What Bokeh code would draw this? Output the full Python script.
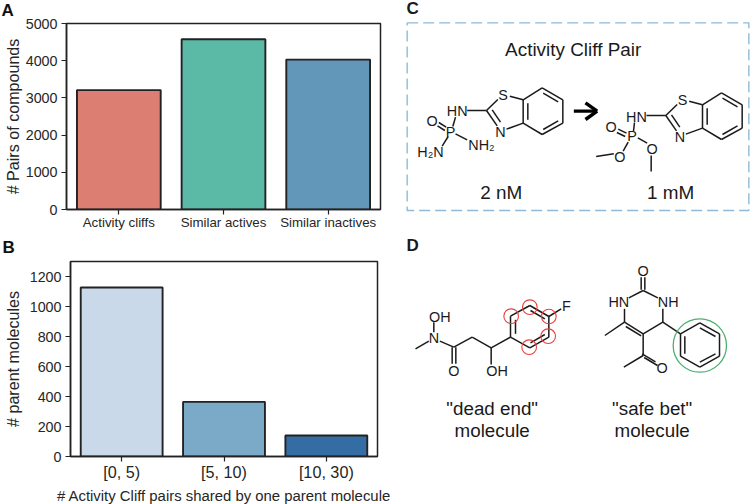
from bokeh.plotting import figure
from bokeh.layouts import column, row
from bokeh.models import FactorRange, Range1d, FixedTicker
from bokeh.core.properties import value
from bokeh.embed import file_html
from bokeh.resources import INLINE

FONT = "Liberation Sans"
INK = "#262626"

cats_a = ["Activity cliffs", "Similar actives", "Similar inactives"]
vals_a = [3210, 4575, 4030]
cols_a = ["#DC7E72", "#5ABAA6", "#6297BA"]
ticks_a = [0, 1000, 2000, 3000, 4000, 5000]

cats_b = ["[0, 5)", "[5, 10)", "[10, 30)"]
vals_b = [1127, 364, 140]
cols_b = ["#C9D9E9", "#7BA9C8", "#346DA3"]
ticks_b = [0, 200, 400, 600, 800, 1000, 1200]


def bar_fig(cats, vals, cols, ticks, ymax, w, h, ml, mr, mt, mb, ylabel, xlabel, xsize, letter, off, xstand, ystand, tstand, mbot):
    p = figure(width=w, height=h, x_range=FactorRange(*cats), y_range=Range1d(0, ymax),
               output_backend="svg", toolbar_location=None, tools="", margin=(-6, 0, mbot, 0),
               min_border_left=ml, min_border_right=mr, min_border_top=mt, min_border_bottom=mb)
    p.background_fill_alpha = 0
    p.border_fill_alpha = 0
    p.vbar(x=cats, top=vals, width=0.8, fill_color=cols, line_color="#222222", line_width=1.9)
    p.grid.visible = False
    p.outline_line_color = "#222222"
    p.outline_line_width = 1.5
    p.yaxis.ticker = FixedTicker(ticks=ticks)
    for ax in (p.xaxis[0], p.yaxis[0]):
        ax.axis_line_color = "#222222"
        ax.axis_line_width = 1.5
        ax.major_tick_line_color = "#222222"
        ax.major_tick_line_width = 1.2
        ax.major_tick_in = 0
        ax.major_tick_out = 5
        ax.minor_tick_line_color = None
        ax.major_label_text_font = FONT
        ax.major_label_text_color = INK
        ax.axis_label_text_font = FONT
        ax.axis_label_text_font_style = "normal"
        ax.axis_label_text_color = INK
    p.yaxis.axis_label_text_font_size = "16.1px"
    p.xaxis.axis_label_text_font_size = "14.9px"
    p.yaxis.major_label_text_font_size = "14.3px"
    p.xaxis.major_label_text_font_size = xsize
    p.yaxis.axis_label = ylabel
    p.yaxis.major_label_standoff = 4
    p.yaxis.axis_label_standoff = ystand
    p.xaxis.major_label_standoff = xstand
    p.xaxis.major_label_orientation = "horizontal"
    if xlabel:
        p.xaxis.axis_label = xlabel
        p.xaxis.axis_label_standoff = 4
    p.title.text = letter
    p.title.text_font = FONT
    p.title.text_font_style = "bold"
    p.title.text_font_size = "17px"
    p.title.text_color = "#111111"
    p.title.align = "left"
    p.title.offset = off
    p.title.standoff = tstand
    return p


fa = bar_fig(cats_a, vals_a, cols_a, ticks_a, 5000, 400, 241, 66, 20, 29, 26,
             "# Pairs of compounds", None, "13.3px", "A", -65, 0, 1, 7, 0)
fb = bar_fig(cats_b, vals_b, cols_b, ticks_b, 1300, 400, 277, 70, 23, 32, 50,
             "# parent molecules", "# Activity Cliff pairs shared by one parent molecule",
             "16.2px", "B", -68, 1, 5, 10, -2)

# Panels C and D: schematic structures (3x crop coordinates)
fc = figure(width=350, height=504, x_range=Range1d(0, 1050), y_range=Range1d(1512, 0),
            output_backend="svg", toolbar_location=None, tools="",
            min_border_left=0, min_border_right=0, min_border_top=0, min_border_bottom=0)
fc.axis.visible = False
fc.grid.visible = False
fc.outline_line_color = None

D = 660  # vertical offset of panel D's crop in this panel


def bonds(segs, dx=0, dy=0, width=1.5, color="#1a1a1a"):
    fc.multi_line([[s[0] + dx, s[2] + dx] for s in segs], [[s[1] + dy, s[3] + dy] for s in segs],
                  line_color=color, line_width=width)


def label(t, x, y, size="14.4px", align="center", weight="normal"):
    fc.text([x], [y], text=[t], text_font=value(FONT), text_font_size=size, text_color="#1a1a1a",
            text_align=align, text_baseline="middle", text_font_style=weight)


# box of panel C
fc.multi_line([[20, 1045, 1045, 20, 20]], [[67, 67, 630, 630, 67]],
              line_color="#8DBBD8", line_width=1.4, line_dash="11 5")

benzothiazole = [
    (368, 298, 425, 262), (425, 262, 487, 298), (487, 298, 487, 368), (487, 368, 425, 402),
    (425, 402, 368, 368), (368, 368, 368, 298),
    (428, 278, 473, 304), (473, 361, 428, 387), (382, 358, 382, 308),
    (328, 287, 368, 298), (318, 386, 368, 368), (258, 330, 292, 297), (258, 330, 290, 376),
    (275, 328, 300, 365), (200, 330, 258, 330),
]
bonds(benzothiazole)
bonds(benzothiazole, 538, 15)
bonds([(165, 350, 157, 378), (115, 366, 137, 380), (111, 376, 133, 390), (165, 400, 200, 418),
       (143, 408, 125, 437)])
bonds([(702, 366, 699, 392), (653, 386, 678, 398), (649, 396, 674, 408), (683, 425, 668, 452),
       (712, 412, 740, 428), (587, 468, 640, 460), (752, 465, 752, 513)])
for t, x, y in [("S", 308, 282), ("N", 300, 393), ("HN", 170, 332), ("P", 150, 393), ("O", 95, 360),
                ("NH₂", 243, 432), ("H₂N", 90, 455),
                ("S", 846, 297), ("N", 838, 408), ("HN", 708, 348), ("P", 695, 405), ("O", 632, 378),
                ("O", 658, 470), ("O", 755, 445)]:
    label(t, x, y)
bonds([(520, 332, 588, 332), (555, 307, 590, 332), (590, 332, 555, 357)], width=3.4, color="#000000")
label("Activity Cliff Pair", 518, 148, "18.9px")
label("2 nM", 302, 575, "18.9px")
label("1 mM", 810, 575, "18.9px")

# dead end molecule
bonds([(45, 385, 85, 362), (100, 305, 100, 335), (118, 362, 160, 380), (155, 380, 155, 430),
       (166, 380, 166, 430), (160, 380, 215, 350), (215, 350, 272, 382), (272, 382, 272, 432),
       (272, 382, 330, 350), (330, 350, 330, 287), (330, 287, 388, 255), (388, 255, 445, 288),
       (445, 288, 445, 350), (445, 350, 388, 382), (388, 382, 330, 350), (345, 298, 345, 340),
       (390, 270, 433, 295), (390, 367, 433, 342), (445, 288, 482, 265)], 0, D)
# safe bet molecule
bonds([(722, 170, 722, 208), (733, 170, 733, 208), (728, 210, 685, 232), (728, 210, 772, 232),
       (672, 265, 672, 305), (787, 265, 787, 305), (672, 305, 728, 340), (676, 318, 722, 346),
       (728, 340, 787, 305), (672, 305, 613, 345), (728, 340, 728, 405), (728, 405, 670, 440),
       (725, 400, 765, 424), (731, 411, 771, 435), (787, 305, 840, 340), (840, 340, 898, 307),
       (898, 307, 957, 340), (957, 340, 957, 407), (957, 407, 898, 440), (898, 440, 840, 407),
       (840, 407, 840, 340), (853, 347, 853, 400), (898, 322, 945, 348), (898, 425, 945, 400)], 0, D)
for t, x, y in [("OH", 118, 288), ("N", 100, 352), ("O", 160, 452), ("OH", 290, 452), ("F", 498, 255),
                ("O", 728, 150), ("HN", 655, 245), ("NH", 803, 245), ("O", 785, 443)]:
    label(t, x, y + D)
fc.circle([332, 388, 445, 443, 386], [d + D for d in [287, 260, 288, 347, 380]], radius=22,
          fill_color=None, line_color="#E8403F", line_width=1.1)
fc.circle([898], [375 + D], radius=80, fill_color=None, line_color="#4CB070", line_width=1.3)
label('"dead end"', 275, 565 + D, "18.8px")
label("molecule", 275, 630 + D, "18.8px")
label('"safe bet"', 755, 565 + D, "18.8px")
label("molecule", 755, 630 + D, "18.8px")
label("C", 18, 25, "17px", "left", "bold")
label("D", 18, 75 + D, "17px", "left", "bold")

page = row(column(row(fa), row(fb), spacing=0), fc, spacing=0)
open("out.html", "w").write(file_html(page, INLINE))
